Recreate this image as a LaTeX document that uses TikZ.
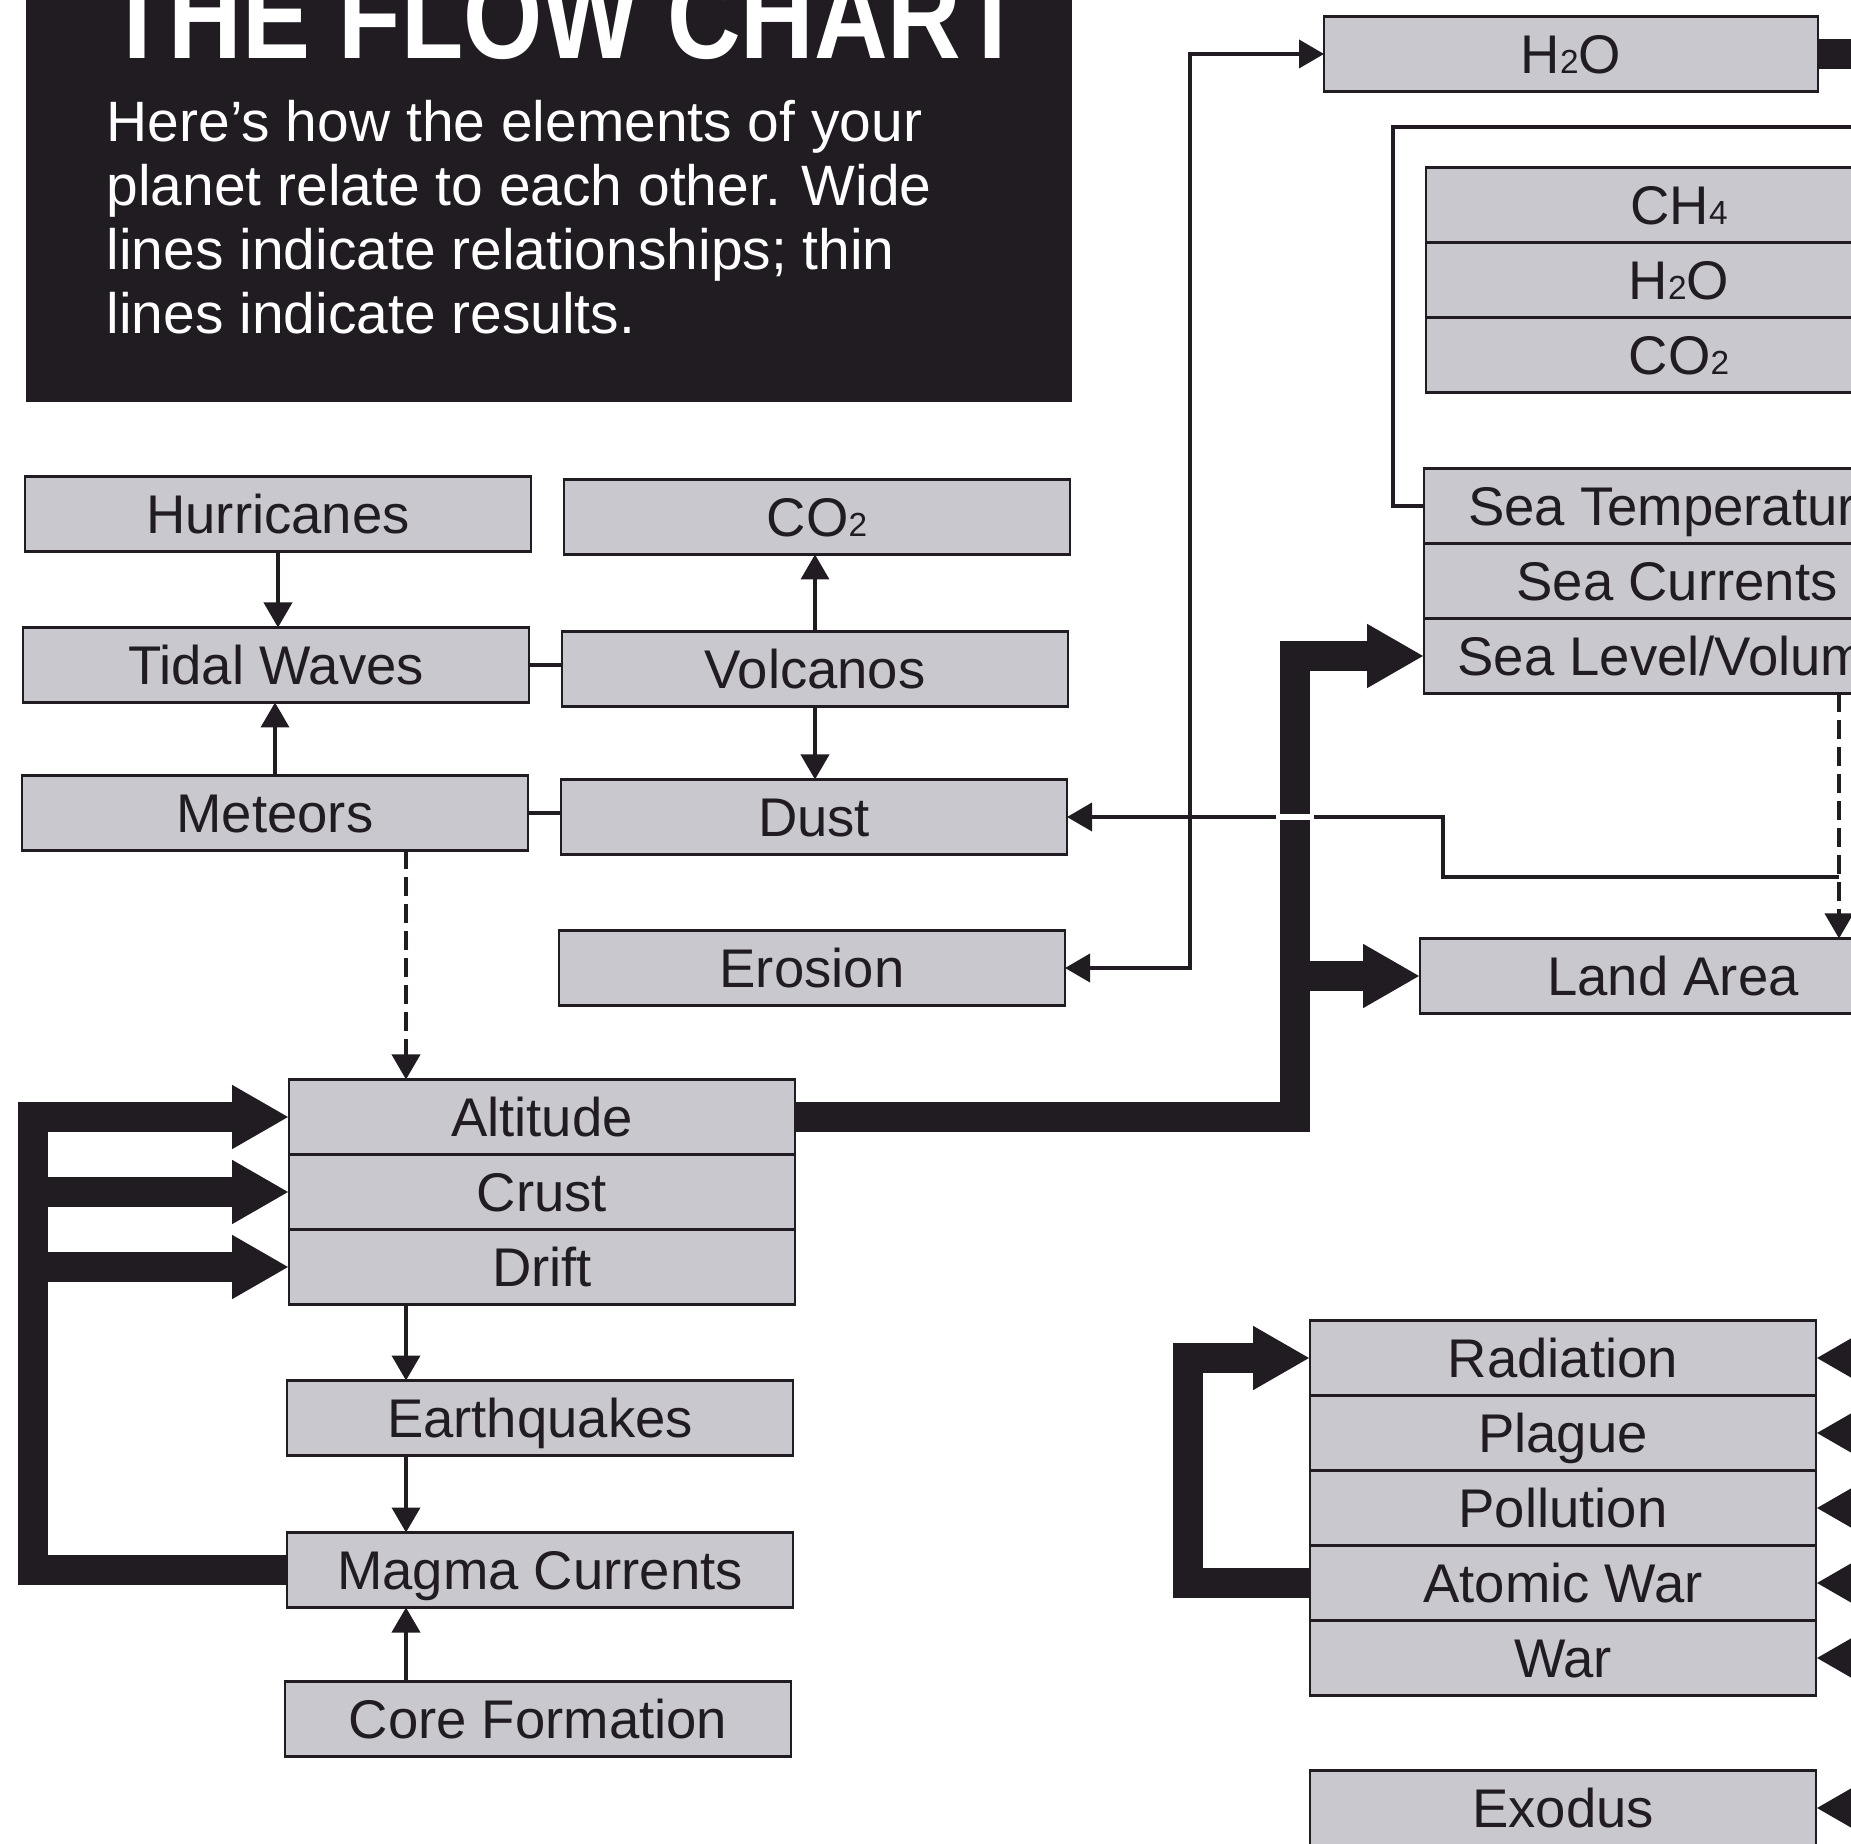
\documentclass[tikz,border=0pt]{standalone}
\usepackage{fontspec}
\setmainfont{Liberation Sans}
\usepackage{graphicx}
\usetikzlibrary{arrows.meta,positioning}
\definecolor{ink}{RGB}{32,28,34}
\definecolor{boxgray}{RGB}{200,200,206}
\newcommand\subdigit[1]{{\fontsize{9.5}{10}\selectfont#1}}
\tikzset{
  box/.style      = {draw=ink, line width=0.6pt, fill=boxgray, minimum width=5.06cm,
                     minimum height=0.75cm, inner sep=0pt, outer sep=0pt, text=ink,
                     font=\fontsize{15.5}{18}\selectfont, text height=11.1pt, text depth=0pt},
  link/.style     = {draw=ink, line width=1.1pt},
  result/.style   = {link, ->, >={Triangle[length=2.5mm,width=2.8mm]}},
  relation/.style = {draw=ink, line width=8.8pt, ->, >={Triangle[length=5.7mm,width=6mm]}},
  intro/.style    = {anchor=base west, text=white, inner sep=0pt},
}

\begin{document}
\begin{tikzpicture}[x=0.1mm,y=-0.1mm]
  \useasboundingbox (0,0) rectangle (1851,1844);
  \clip (0,0) rectangle (1851,1844);

  % heading
  \fill[ink] (26,-20) rectangle (1072,402);
  \node[intro, font=\fontsize{29}{32}\selectfont\bfseries] (title) at (106,59)
      {\scalebox{1}[1.2]{THE FLOW CHART}};
  \foreach \txt [count=\i] in {Here's how the elements of your,
      planet relate to each other. Wide, lines indicate relationships; thin,
      lines indicate results.}
    \node[intro, font=\fontsize{16.2}{19}\selectfont] (intro\i) at (106,{78+64*\i}) {\txt};

  % left column
  \node[box] (hurricanes) at (278,514) {Hurricanes};
  \node[box] (co2) at (817,517) {CO\subdigit{2}};
  \node[box] (tidal) at (276,665) {Tidal Waves};
  \node[box] (volcanos) at (815,669) {Volcanos};
  \node[box] (meteors) at (275,813) {Meteors};
  \node[box] (dust) at (814,817) {Dust};
  \node[box] (erosion) at (812,968) {Erosion};
  \node[box] (altitude) at (542,1117) {Altitude};
  \node[box, below=0pt of altitude] (crust) {Crust};
  \node[box, below=0pt of crust] (drift) {Drift};
  \node[box] (earthquakes) at (540,1418) {Earthquakes};
  \node[box] (magma) at (540,1570) {Magma Currents};
  \node[box] (core) at (538,1719) {Core Formation};

  % right column
  \node[box, minimum width=4.94cm] (h2o) at (1571,54) {H\subdigit{2}O};
  \node[box] (ch4) at (1679,205) {CH\subdigit{4}};
  \node[box, below=0pt of ch4] (gash2o) {H\subdigit{2}O};
  \node[box, below=0pt of gash2o] (gasco2) {CO\subdigit{2}};
  \node[box] (seatemp) at (1677,506) {Sea Temperature};
  \node[box, below=0pt of seatemp] (currents) {Sea Currents};
  \node[box, below=0pt of currents] (level) {Sea Level/Volume};
  \node[box] (land) at (1673,976) {Land Area};
  \node[box] (radiation) at (1563,1358) {Radiation};
  \node[box, below=0pt of radiation] (plague) {Plague};
  \node[box, below=0pt of plague] (pollution) {Pollution};
  \node[box, below=0pt of pollution] (atomic) {Atomic War};
  \node[box, below=0pt of atomic] (war) {War};
  \node[box] (exodus) at (1563,1808) {Exodus};

  \coordinate (spine) at (406,0);
  \coordinate (loop) at (33,0);
  \coordinate (trunk) at (1295,0);
  \coordinate (rise) at (1190,0);
  \coordinate (warloop) at (1188,0);
  \coordinate (edge) at (1839,0);
  \coordinate (offpage) at (1930,0);
  \coordinate (seafeed) at (1930,127);
  \coordinate (seabend) at (1393,127);
  \coordinate (dustsrc) at (1839,877);
  \coordinate (dustkink) at (1443,877);

  % thin lines: results
  \draw[result] (hurricanes.south) -- (hurricanes.south |- tidal.north);
  \draw[result] (meteors.north) -- (meteors.north |- tidal.south);
  \draw[link] (tidal.east) -- (tidal.east -| volcanos.west);
  \draw[link] (meteors.east) -- (meteors.east -| dust.west);
  \draw[result] (volcanos.north) -- (volcanos.north |- co2.south);
  \draw[result] (volcanos.south) -- (volcanos.south |- dust.north);
  \draw[result, dash pattern=on 1.9mm off 0.8mm] (meteors.south -| spine) -- (altitude.north -| spine);
  \draw[result] (drift.south -| spine) -- (earthquakes.north -| spine);
  \draw[result] (earthquakes.south -| spine) -- (magma.north -| spine);
  \draw[result] (core.north -| spine) -- (magma.south -| spine);
  \draw[result, <->] (erosion.east) -- (erosion.east -| rise) -- (h2o.west -| rise) -- (h2o.west);
  \draw[result] (dustsrc) -- (dustkink) |- (dust.east);
  \draw[link] (seafeed) -- (seabend) |- (seatemp.west);
  \draw[result, dash pattern=on 1.9mm off 0.8mm] (level.south -| edge) -- (land.north -| edge);

  % wide lines: relationships
  \draw[relation] (altitude.east) -- (altitude.east -| trunk) -- (level.west -| trunk) -- (level.west);
  \draw[relation] (land.west -| trunk) -- (land.west);
  \draw[white, line width=1.6pt] ([xshift=-1.9mm]dust.east -| trunk) -- ([xshift=1.9mm]dust.east -| trunk);
  \draw[relation] (magma.west) -- (magma.west -| loop) -- (altitude.west -| loop) -- (altitude.west);
  \draw[relation] (crust.west -| loop) -- (crust.west);
  \draw[relation] (drift.west -| loop) -- (drift.west);
  \draw[relation] (atomic.west) -- (atomic.west -| warloop) -- (radiation.west -| warloop) -- (radiation.west);
  \draw[relation, -] (h2o.east) -- (h2o.east -| offpage);
  \foreach \n in {radiation,plague,pollution,atomic,war,exodus}
    \draw[relation] (\n.east -| offpage) -- (\n.east);
\end{tikzpicture}
\end{document}
